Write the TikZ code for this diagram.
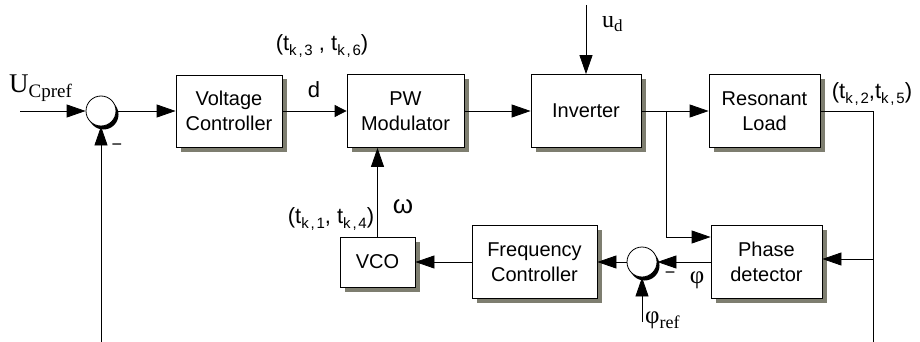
\documentclass[tikz,border=0pt]{standalone}
\usepackage{fontspec}
\setmainfont{Liberation Sans}
\newfontfamily\seriffont{Liberation Serif}
\usetikzlibrary{arrows.meta,shadows}
\definecolor{shgray}{HTML}{7E7E70}
\newcommand{\tsub}[2]{t\raisebox{-4.5pt}{\fontsize{15}{15}\selectfont #1\kern1.8pt,\kern1.8pt#2}}
\tikzset{
  blk/.style={draw, fill=white, line width=0.8pt, align=center,
    font=\fontsize{20}{24.5}\selectfont, inner sep=0pt,
    general shadow={fill=shgray, shadow xshift=5pt, shadow yshift=-4.5pt}},
  sumj/.style={circle, draw, fill=white, line width=0.8pt, minimum size=30pt, inner sep=0pt,
    general shadow={fill=black, shadow xshift=2.5pt, shadow yshift=-3.5pt}},
  arr/.style={line width=0.8pt, -{Triangle[length=19pt,width=13pt]}},
  arrs/.style={line width=0.8pt, -{Triangle[length=12pt,width=12pt]}},
  ln/.style={line width=0.8pt},
  lbl/.style={inner sep=0pt, font=\fontsize{22}{22}\selectfont},
  slbl/.style={inner sep=0pt, font=\seriffont\fontsize{27}{27}\selectfont},
}
\begin{document}
\begin{tikzpicture}[x=1pt,y=-1pt]
\useasboundingbox (0,0) rectangle (920,342);
% blocks
\node[blk, minimum width=106pt, minimum height=72pt] (vc) at (229,111) {Voltage\\Controller};
\node[blk, minimum width=117pt, minimum height=73pt] (pw) at (405.5,111) {PW\\Modulator};
\node[blk, minimum width=110pt, minimum height=73pt] (inv) at (586,111) {Inverter};
\node[blk, minimum width=111pt, minimum height=73pt] (rl) at (764.5,111) {Resonant\\Load};
\node[blk, minimum width=111pt, minimum height=73pt] (pd) at (766.5,262) {Phase\\detector};
\node[blk, minimum width=125pt, minimum height=73pt] (fc) at (534.5,262) {Frequency\\Controller};
\node[blk, minimum width=75pt, minimum height=50pt] (vco) at (377.5,262) {VCO};
\node[sumj] (s1) at (101,111) {};
\node[sumj] (s2) at (642,262) {};
% coordinates
\coordinate (in) at (20,111);
\coordinate (fb) at (101,342);
\coordinate (ud) at (586,5);
\coordinate (b1) at (666,111);
\coordinate (b2) at (666,237);
\coordinate (o1) at (873,111);
\coordinate (o2) at (873,342);
\coordinate (pr) at (642,322);
% connectors
\draw[arr] (in) -- (s1.west);
\draw[arr] (fb) -- (s1.south);
\draw[arr] (s1.east) -- (vc.west);
\draw[arrs] (vc.east) -- (pw.west);
\draw[arr] (pw.east) -- (inv.west);
\draw[arr] (inv.east) -- (rl.west);
\draw[arr] (ud) -- (inv.north);
\draw[ln] (b1) -- (b2);
\draw[arr] (b2) -- (b2 -| pd.west);
\draw[ln] (rl.east) -- (o1) -- (o2);
\draw[arr] (o1 |- 0,259) -- (pd.east |- 0,259);
\draw[arr] (pd.west) -- (s2.east);
\draw[arr] (pr) -- (s2.south);
\draw[arr] (s2.west) -- (fc.east);
\draw[arr] (fc.west) -- (vco.east);
\draw[arr] (vco.north) -- (vco.north |- pw.south);
% labels
\node[slbl, anchor=base west] (uc) at (9,93) {U\raisebox{-5pt}{\fontsize{19}{19}\selectfont Cpref}};
\node[inner sep=0pt, font=\fontsize{18}{18}\selectfont] (m1) at (117,147) {−};
\node[inner sep=0pt, font=\fontsize{18}{18}\selectfont] (m2) at (670,275) {−};
\node[inner sep=0pt, font=\seriffont\fontsize{25}{25}\selectfont] (phi) at (697,280) {φ};
\node[inner sep=0pt, anchor=west, font=\seriffont\fontsize{25}{25}\selectfont] (phir) at (645,320) {φ\raisebox{-5pt}{\fontsize{18}{18}\selectfont ref}};
\node[inner sep=0pt, font=\fontsize{26}{26}\selectfont] (om) at (403,207) {ω};
\node[lbl] (tl1) at (331,219) {(\tsub{k}{1}, \tsub{k}{4})};
\node[lbl] (tl3) at (322,46) {(\tsub{k}{3} , \tsub{k}{6})};
\node[lbl] (tl2) at (872,94) {(\tsub{k}{2},\tsub{k}{5})};
\node[inner sep=0pt, font=\fontsize{22}{22}\selectfont] (dl) at (314,90) {d};
\node[inner sep=0pt, anchor=base west, font=\seriffont\fontsize{24}{24}\selectfont] (udl) at (602,28) {u\raisebox{-4pt}{\fontsize{17}{17}\selectfont d}};
\end{tikzpicture}
\end{document}
